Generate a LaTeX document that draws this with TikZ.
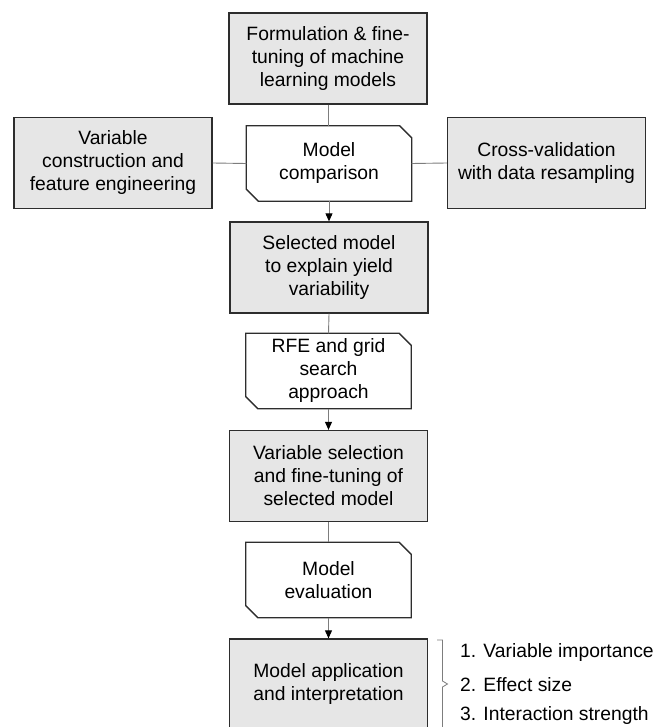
\documentclass[tikz,border=0pt]{standalone}
\usepackage{fontspec}
\setmainfont{Liberation Sans}
\usetikzlibrary{arrows.meta}
\definecolor{boxfill}{RGB}{230,230,230}
\definecolor{edgegray}{RGB}{125,125,125}
\definecolor{boxline}{RGB}{45,45,45}
\newcommand\cutbox[1]{\draw[draw=boxline,line width=1.3pt]
  (#1.north west) -- ([xshift=-12pt]#1.north east) -- ([yshift=-12pt]#1.north east)
  -- (#1.south east) -- ([xshift=12pt]#1.south west) -- ([yshift=12pt]#1.south west) -- cycle;}
\begin{document}
\begin{tikzpicture}[x=1pt,y=-1pt,
  every node/.style={font=\fontsize{19.3}{23}\selectfont, align=center, inner sep=0pt},
  graybox/.style={draw=boxline, fill=boxfill, line width=1.3pt, minimum width=198pt, minimum height=91pt},
  chamfnode/.style={minimum width=165pt, minimum height=75pt},
  conn/.style={draw=edgegray, line width=0.9pt},
  arr/.style={conn, -{Triangle[length=8pt,width=7pt,color=black]}},
  listitem/.style={anchor=west}]
\useasboundingbox (0,0) rectangle (656,727);
\clip (0,0) rectangle (656,727);
% gray boxes
\node[graybox] (form) at (328,58.5) {Formulation \& fine-\\tuning of machine\\learning models};
\node[graybox] (vc) at (113,163) {Variable\\construction and\\feature engineering};
\node[graybox] (cv) at (546.5,163) {Cross-validation\\with data resampling};
\node[graybox] (sel) at (329,267.5) {Selected model\\to explain yield\\variability};
\node[graybox] (vs) at (328.5,476) {Variable selection\\and fine-tuning of\\selected model};
\node[graybox] (app) at (328.5,684.5) {Model application\\and interpretation};
% chamfered boxes
\node[chamfnode] (mc) at (329,163.5) {Model\\comparison};
\cutbox{mc}
\node[chamfnode] (rfe) at (328.5,371) {RFE and grid\\search\\approach};
\cutbox{rfe}
\node[chamfnode] (me) at (328.5,580) {Model\\evaluation};
\cutbox{me}
% connectors
\draw[conn] (form.south) -- (mc.north -| form.south);
\draw[conn] (vc.east) -- (mc.west);
\draw[conn] (mc.east) -- (cv.west);
\draw[arr] (mc.south) -- (sel.north);
\draw[conn] (sel.south) -- (rfe.north);
\draw[arr] (rfe.south) -- (vs.north);
\draw[conn] (vs.south) -- (me.north);
\draw[arr] (me.south) -- (app.north);
% bracket
\coordinate (bt) at (437,640);
\coordinate (bm) at (447.5,684);
\draw[edgegray, line width=0.8pt] (bt) -- (442.5,640) -- (442.5,681) -- (bm) -- (442.5,687) -- (442.5,735);
% list
\node[listitem] (l1) at (460,653) {1. Variable importance};
\node[listitem] (l2) at (460,685) {2. Effect size};
\node[listitem] (l3) at (460,716) {3. Interaction strength};
\end{tikzpicture}
\end{document}
